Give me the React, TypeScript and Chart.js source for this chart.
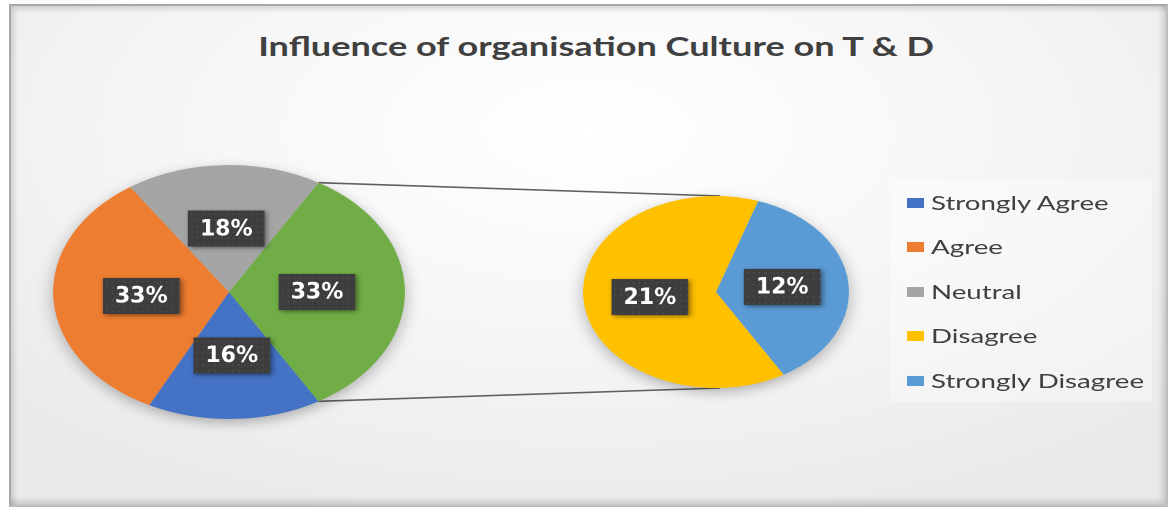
import React, { useEffect, useRef } from "react";
import { Chart, registerables } from "chart.js";

Chart.register(...registerables);

// ---------- data ----------
const TITLE = "Influence of organisation Culture on T & D";
const PRIMARY_LABELS = ["Strongly Agree", "Agree", "Neutral"];
const PRIMARY_VALUES = [16, 33, 18];
const PRIMARY_COLORS = ["#4472C4", "#ED7D31", "#A5A5A5"];
const OTHER_LABEL = "Other";
const OTHER_COLOR = "#70AD47";
const SECONDARY_LABELS = ["Disagree", "Strongly Disagree"];
const SECONDARY_VALUES = [21, 12];
const SECONDARY_COLORS = ["#FFC000", "#5B9BD5"];

const OTHER_VALUE = SECONDARY_VALUES.reduce((a, b) => a + b, 0);
const MAIN_LABELS = [...PRIMARY_LABELS, OTHER_LABEL];
const MAIN_VALUES = [...PRIMARY_VALUES, OTHER_VALUE];
const MAIN_COLORS = [...PRIMARY_COLORS, OTHER_COLOR];
const LEGEND_LABELS = [...PRIMARY_LABELS, ...SECONDARY_LABELS];
const LEGEND_COLORS = [...PRIMARY_COLORS, ...SECONDARY_COLORS];

// ---------- layout ----------
const SX = 1.385; // horizontal stretch of the picture
const MAIN = { cx: 229, cy: 292, r: 127, size: 264 };
const SEC = { cx: 716, cy: 292, r: 96, size: 204 };

const TOTAL = MAIN_VALUES.reduce((a, b) => a + b, 0);
// "Other" slice centred on the right-hand side
const ROTATION = 90 + (OTHER_VALUE / TOTAL) * 180;

const boxLabels = {
  id: "boxLabels",
  afterDatasetsDraw(chart: any) {
    const ctx = chart.ctx as CanvasRenderingContext2D;
    const meta = chart.getDatasetMeta(0);
    const data = chart.data.datasets[0].data as number[];
    meta.data.forEach((arc: any, i: number) => {
      const { x, y } = arc.tooltipPosition(false);
      const text = `${data[i]}%`;
      ctx.save();
      ctx.translate(x, y);
      ctx.scale(1 / SX, 1);
      ctx.font = "bold 22px 'DejaVu Sans'";
      const w = ctx.measureText(text).width + 24;
      const h = 36;
      ctx.shadowColor = "rgba(0,0,0,0.45)";
      ctx.shadowBlur = 8;
      ctx.shadowOffsetX = 3;
      ctx.shadowOffsetY = 3;
      ctx.fillStyle = "#3d3d3d";
      ctx.fillRect(-w / 2, -h / 2, w, h);
      ctx.shadowColor = "transparent";
      ctx.fillStyle = "rgba(255,255,255,0.10)";
      for (let dx = -w / 2 + 3; dx < w / 2 - 1; dx += 6)
        for (let dy = -h / 2 + 3; dy < h / 2 - 1; dy += 6) ctx.fillRect(dx, dy, 1.5, 1.5);
      ctx.fillStyle = "#ffffff";
      ctx.textAlign = "center";
      ctx.textBaseline = "middle";
      ctx.fillText(text, 0, 1);
      ctx.restore();
    });
  },
};

function makePie(canvas: HTMLCanvasElement, labels: string[], values: number[], colors: string[], radius: number) {
  return new Chart(canvas, {
    type: "pie",
    data: {
      labels,
      datasets: [
        {
          data: values,
          backgroundColor: colors,
          borderWidth: 0,
          radius,
        } as any,
      ],
    },
    options: {
      responsive: false,
      animation: false,
      devicePixelRatio: 2,
      rotation: ROTATION,
      layout: { padding: 0 },
      plugins: { legend: { display: false }, tooltip: { enabled: false }, title: { display: false } },
      events: [],
    },
    plugins: [boxLabels],
  });
}

export default function App() {
  const mainRef = useRef<HTMLCanvasElement>(null);
  const secRef = useRef<HTMLCanvasElement>(null);
  const lineRef = useRef<HTMLCanvasElement>(null);

  useEffect(() => {
    const main = makePie(mainRef.current!, MAIN_LABELS, MAIN_VALUES, MAIN_COLORS, MAIN.r);
    const sec = makePie(secRef.current!, SECONDARY_LABELS, SECONDARY_VALUES, SECONDARY_COLORS, SEC.r);

    // connector lines from the "Other" slice to the secondary pie
    const lc = lineRef.current!;
    const dpr = 2;
    lc.width = 1173 * dpr;
    lc.height = 510 * dpr;
    const ctx = lc.getContext("2d")!;
    ctx.scale(dpr, dpr);
    const otherArc: any = main.getDatasetMeta(0).data[MAIN_VALUES.length - 1];
    const mp = otherArc.getProps(["x", "y", "startAngle", "endAngle", "outerRadius"], true);
    const toPage = (cfg: typeof MAIN, x: number, y: number) => [
      cfg.cx + (x - cfg.size / 2) * SX,
      cfg.cy - cfg.size / 2 + y,
    ];
    const secArc: any = sec.getDatasetMeta(0).data[0];
    const sp = secArc.getProps(["x", "y", "outerRadius"], true);
    const a1 = toPage(MAIN, mp.x + Math.cos(mp.startAngle) * mp.outerRadius, mp.y + Math.sin(mp.startAngle) * mp.outerRadius);
    const a2 = toPage(MAIN, mp.x + Math.cos(mp.endAngle) * mp.outerRadius, mp.y + Math.sin(mp.endAngle) * mp.outerRadius);
    const b1 = toPage(SEC, sp.x + 3, sp.y - sp.outerRadius);
    const b2 = toPage(SEC, sp.x + 3, sp.y + sp.outerRadius);
    ctx.strokeStyle = "#5f5f5f";
    ctx.lineWidth = 1.6;
    ctx.beginPath();
    ctx.moveTo(a1[0], a1[1]);
    ctx.lineTo(b1[0], b1[1]);
    ctx.moveTo(a2[0], a2[1]);
    ctx.lineTo(b2[0], b2[1]);
    ctx.stroke();

    return () => {
      main.destroy();
      sec.destroy();
    };
  }, []);

  const pieWrap = (cfg: typeof MAIN): React.CSSProperties => ({
    position: "absolute",
    left: cfg.cx - cfg.size / 2,
    top: cfg.cy - cfg.size / 2,
    width: cfg.size,
    height: cfg.size,
    transform: `scaleX(${SX})`,
    transformOrigin: "center center",
    filter: "drop-shadow(0px 4px 6px rgba(0,0,0,0.28))",
  });

  return (
    <div style={{ position: "absolute", left: 0, top: 0, width: 1173, height: 510, background: "#ffffff", overflow: "hidden" }}>
      <div
        style={{
          position: "absolute",
          left: 9,
          top: 4,
          width: 1155,
          height: 499,
          border: "2px solid #a9a9a9",
          borderRightColor: "#bdbdbd",
          borderBottomColor: "#bdbdbd",
          background:
            "radial-gradient(ellipse 70% 80% at 50% 25%, #ffffff 0%, #f5f5f5 55%, #eaeaea 100%)",
          boxShadow:
            "inset 4px 4px 6px -2px rgba(0,0,0,0.18), inset -5px -5px 7px -2px rgba(0,0,0,0.18)",
        }}
      />
      {/* legend backdrop */}
      <div
        style={{
          position: "absolute",
          left: 890,
          top: 180,
          width: 262,
          height: 222,
          background: "rgba(255,255,255,0.35)",
        }}
      />
      <div
        style={{
          position: "absolute",
          left: 0,
          top: 30,
          width: 1173,
          textAlign: "center",
          fontFamily: "Lato, 'Open Sans', sans-serif",
          fontWeight: 700,
          fontSize: 26,
          lineHeight: "32px",
          color: "#404040",
          whiteSpace: "nowrap",
        }}
      >
        <span style={{ display: "inline-block", transform: "scaleX(1.39)", marginLeft: 19 }}>{TITLE}</span>
      </div>
      <canvas ref={lineRef} style={{ position: "absolute", left: 0, top: 0, width: 1173, height: 510 }} />
      <div style={pieWrap(MAIN)}>
        <canvas ref={mainRef} width={MAIN.size} height={MAIN.size} />
      </div>
      <div style={pieWrap(SEC)}>
        <canvas ref={secRef} width={SEC.size} height={SEC.size} />
      </div>
      {LEGEND_LABELS.map((lab, i) => (
        <div key={lab} style={{ position: "absolute", left: 907, top: 202.5 + i * 44.5 - 15, height: 30, whiteSpace: "nowrap" }}>
          <div
            style={{
              position: "absolute",
              left: 0,
              top: 10,
              width: 17,
              height: 10,
              background: LEGEND_COLORS[i],
            }}
          />
          <div
            style={{
              position: "absolute",
              left: 24,
              top: -1,
              fontFamily: "Lato, 'Open Sans', sans-serif",
              fontSize: 20,
              lineHeight: "30px",
              color: "#404040",
              transformOrigin: "left center",
              transform: `scaleX(${SX})`,
            }}
          >
            {lab}
          </div>
        </div>
      ))}
    </div>
  );
}
